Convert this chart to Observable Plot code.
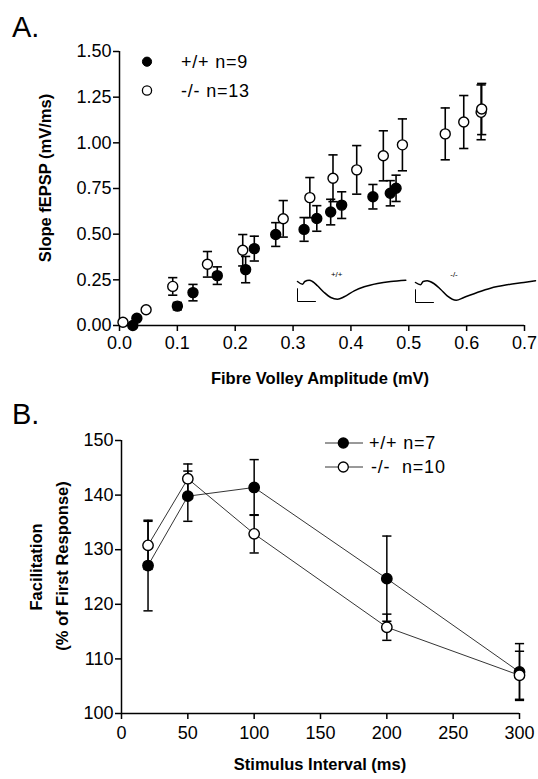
<!DOCTYPE html>
<html><head><meta charset="utf-8">
<script src="https://cdn.jsdelivr.net/npm/d3@7"></script>
<script src="https://cdn.jsdelivr.net/npm/@observablehq/plot@0.6"></script>
<style>
body{margin:0;background:#fff;}
#fig{position:relative;width:538px;height:779px;overflow:hidden;font-family:'Liberation Sans',Arial,Helvetica,sans-serif;color:#000;background:#fff;}
.abs{position:absolute;white-space:pre;line-height:1;}
.panel{font-size:29px;}
.axt{font-weight:bold;font-size:16.5px;}
.mid{transform:translate(-50%,-50%);}
.vmid{transform:translateY(-50%);}
.rot{transform:translate(-50%,-50%) rotate(-90deg);}
.leg{font-size:18px;letter-spacing:0.8px;}
.small{font-size:8px;}
svg{overflow:visible;}
</style>
</head><body><div id="fig"></div>
<script>
// ---------- Panel A data ----------
const aXTicks = [0, 0.1, 0.2, 0.3, 0.4, 0.5, 0.6, 0.7];
const aYTicks = [0, 0.25, 0.5, 0.75, 1.0, 1.25, 1.5];
const aWtX   = [0.023, 0.030, 0.100, 0.127, 0.169, 0.218, 0.233, 0.270, 0.319, 0.341, 0.365, 0.384, 0.438, 0.468, 0.478];
const aWtY   = [0.000, 0.040, 0.106, 0.180, 0.273, 0.306, 0.421, 0.498, 0.526, 0.586, 0.621, 0.659, 0.705, 0.724, 0.751];
const aWtErr = [0,     0,     0.020, 0.045, 0.048, 0.072, 0.068, 0.065, 0.065, 0.070, 0.070, 0.073, 0.067, 0.069, 0.072];
const aKoX   = [0.006, 0.046, 0.092, 0.152, 0.213, 0.283, 0.329, 0.369, 0.410, 0.456, 0.489, 0.563, 0.595, 0.625, 0.626];
const aKoY   = [0.018, 0.086, 0.214, 0.335, 0.412, 0.584, 0.700, 0.806, 0.852, 0.929, 0.989, 1.049, 1.114, 1.167, 1.185];
const aKoErr = [0,     0,     0.048, 0.070, 0.086, 0.100, 0.110, 0.128, 0.133, 0.137, 0.142, 0.142, 0.145, 0.150, 0.140];
const aLegend = ["+/+ n=9", "-/- n=13"];

// inset traces (time ms, voltage mV)
const trWtT = [0, 0.5, 0.73, 1.17, 1.5, 2.0, 2.67, 3.33, 4.0, 4.67, 5.67, 6.67, 8.0, 9.33, 10.83];
const trWtV = [0, -0.135, 0, 0.065, 0, -0.215, -0.55, -0.8, -0.885, -0.765, -0.465, -0.265, -0.1, 0, 0.065];
const trKoT = [0, 0.5, 0.77, 1.17, 1.83, 2.5, 3.17, 4.07, 4.83, 6.17, 7.5, 9.17, 10.83, 12.0];
const trKoV = [0, -0.115, 0.05, 0.085, -0.05, -0.335, -0.665, -0.885, -0.75, -0.5, -0.285, -0.115, 0, 0.085];
const scaleBarT = [0, 0, 1.8];
const scaleBarV = [-0.36, -1.0, -1.0];
const traceLabels = ["+/+", "-/-"];

// ---------- Panel B data ----------
const bXTicks = [0, 50, 100, 150, 200, 250, 300];
const bYTicks = [100, 110, 120, 130, 140, 150];
const bX      = [20, 50, 100, 200, 300];
const bWtY    = [127.1, 139.8, 141.4, 124.7, 107.6];
const bWtErr  = [8.3, 4.6, 5.1, 7.8, 5.2];
const bKoY    = [130.8, 143.0, 132.9, 115.8, 107.0];
const bKoErr  = [4.4, 2.7, 3.5, 2.4, 4.4];
const bLegend = ["+/+ n=7", "-/-  n=10"];

// ---------- helpers ----------
const rows = (xs, ys, es) => xs.map((x, i) => ({x, y: ys[i], e: es[i]}));
const cap = {draw(ctx, size) { const r = Math.sqrt(size / Math.PI); ctx.moveTo(-r, 0); ctx.lineTo(r, 0); }};
const font = "'Liberation Sans', Arial, Helvetica, sans-serif";
function errMarks(data, sw) {
  const d = data.filter(r => r.e > 0);
  return [
    Plot.ruleX(d, {x: "x", y1: r => r.y - r.e, y2: r => r.y + r.e, stroke: "black", strokeWidth: sw}),
    Plot.dot(d, {x: "x", y: r => r.y + r.e, symbol: cap, r: 4.6, stroke: "black", strokeWidth: sw, fill: "none"}),
    Plot.dot(d, {x: "x", y: r => r.y - r.e, symbol: cap, r: 4.6, stroke: "black", strokeWidth: sw, fill: "none"})
  ];
}
const fig = document.getElementById("fig");
function place(node, left, top) {
  node.style.position = "absolute"; node.style.left = left + "px"; node.style.top = top + "px";
  fig.appendChild(node);
}
function label(text, cls, left, top) {
  const d = document.createElement("div");
  d.className = "abs " + cls; d.textContent = text;
  d.style.left = left + "px"; d.style.top = top + "px";
  fig.appendChild(d); return d;
}

// ---------- Panel A ----------
const wtA = rows(aWtX, aWtY, aWtErr), koA = rows(aKoX, aKoY, aKoErr);
const plotA = Plot.plot({
  width: 538, height: 360,
  marginLeft: 119, marginRight: 14, marginTop: 51, marginBottom: 35,
  style: {fontFamily: font, fontSize: "18px", color: "black", background: "transparent", overflow: "visible"},
  x: {domain: [0, 0.7]},
  y: {domain: [0, 1.5]},
  marks: [
    Plot.axisX({ticks: aXTicks, tickFormat: d3.format(".1f"), tickSize: 6, tickPadding: 5, label: null, strokeWidth: 1.5, fontSize: 18}),
    Plot.axisY({ticks: aYTicks, tickFormat: d3.format(".2f"), tickSize: 6, tickPadding: 2, label: null, strokeWidth: 1.5, fontSize: 18}),
    Plot.ruleX([0], {stroke: "black", strokeWidth: 1.5}),
    Plot.ruleY([0], {stroke: "black", strokeWidth: 1.5}),
    ...errMarks(wtA, 1.6),
    ...errMarks(koA, 1.6),
    Plot.dot(wtA, {x: "x", y: "y", r: 5, fill: "black", stroke: "black", strokeWidth: 1.4}),
    Plot.dot(koA, {x: "x", y: "y", r: 5, fill: "white", stroke: "black", strokeWidth: 1.4})
  ]
});
place(plotA, 0, 0);

// inset traces
function trace(t, v, left, top) {
  const p = Plot.plot({
    width: 125, height: 28, margin: 0,
    style: {background: "transparent", overflow: "visible"},
    x: {domain: [0, 12.5], axis: null},
    y: {domain: [-1.1, 0.3], axis: null},
    marks: [
      Plot.line(t.map((x, i) => ({x, y: v[i]})), {x: "x", y: "y", curve: "monotone-x", stroke: "black", strokeWidth: 1.5}),
      Plot.line(scaleBarT.map((x, i) => ({x, y: scaleBarV[i]})), {x: "x", y: "y", stroke: "black", strokeWidth: 1})
    ]
  });
  place(p, left, top);
}
trace(trWtT, trWtV, 296.7, 274.7);
trace(trKoT, trKoV, 415, 275.7);
label(traceLabels[0], "small mid", 336.7, 275);
label(traceLabels[1], "small mid", 454, 275);

// ---------- Panel B ----------
const wtB = rows(bX, bWtY, bWtErr), koB = rows(bX, bKoY, bKoErr);
const plotB = Plot.plot({
  width: 538, height: 360,
  marginLeft: 121, marginRight: 19, marginTop: 40, marginBottom: 47,
  style: {fontFamily: font, fontSize: "18px", color: "black", background: "transparent", overflow: "visible"},
  x: {domain: [0, 300]},
  y: {domain: [100, 150]},
  marks: [
    Plot.axisX({ticks: bXTicks, tickSize: 6, tickPadding: 7, label: null, strokeWidth: 1.5, fontSize: 18}),
    Plot.axisY({ticks: bYTicks, tickSize: 6, tickPadding: 2, label: null, strokeWidth: 1.5, fontSize: 18}),
    Plot.ruleX([0], {stroke: "black", strokeWidth: 1.5}),
    Plot.ruleY([100], {stroke: "black", strokeWidth: 1.5}),
    Plot.line(wtB, {x: "x", y: "y", stroke: "black", strokeWidth: 0.8}),
    Plot.line(koB, {x: "x", y: "y", stroke: "black", strokeWidth: 0.8}),
    ...errMarks(wtB, 1.5),
    ...errMarks(koB, 1.5),
    Plot.dot(wtB, {x: "x", y: "y", r: 5.2, fill: "black", stroke: "black", strokeWidth: 1.4}),
    Plot.dot(koB, {x: "x", y: "y", r: 5.2, fill: "white", stroke: "black", strokeWidth: 1.4})
  ]
});
place(plotB, 0, 400);

// ---------- legends (symbols) ----------
const leg = d3.create("svg").attr("width", 538).attr("height", 779)
  .style("position", "absolute").style("left", "0px").style("top", "0px").style("pointer-events", "none");
leg.append("circle").attr("cx", 147).attr("cy", 61.7).attr("r", 4.6).attr("fill", "black").attr("stroke", "black");
leg.append("circle").attr("cx", 147).attr("cy", 90.5).attr("r", 4.6).attr("fill", "white").attr("stroke", "black").attr("stroke-width", 1.3);
[[443, "black"], [467, "white"]].forEach(([y, f]) => {
  leg.append("line").attr("x1", 325).attr("x2", 363).attr("y1", y).attr("y2", y).attr("stroke", "black").attr("stroke-width", 0.8);
  leg.append("circle").attr("cx", 343.3).attr("cy", y).attr("r", 5).attr("fill", f).attr("stroke", "black").attr("stroke-width", 1.3);
});
fig.appendChild(leg.node());
label(aLegend[0], "leg vmid", 181, 61.7);
label(aLegend[1], "leg vmid", 181, 90.5);
label(bLegend[0], "leg vmid", 369, 443);
label(bLegend[1], "leg vmid", 371, 467);

// ---------- titles ----------
label("A.", "panel", 12, 13);
label("B.", "panel", 12, 400);
label("Slope fEPSP (mV/ms)", "axt rot", 45, 178);
label("Fibre Volley Amplitude (mV)", "axt mid", 320, 378);
label("Facilitation", "axt rot", 36, 567);
label("(% of First Response)", "axt rot", 62, 566);
label("Stimulus Interval (ms)", "axt mid", 320, 764);
</script>
</body></html>
